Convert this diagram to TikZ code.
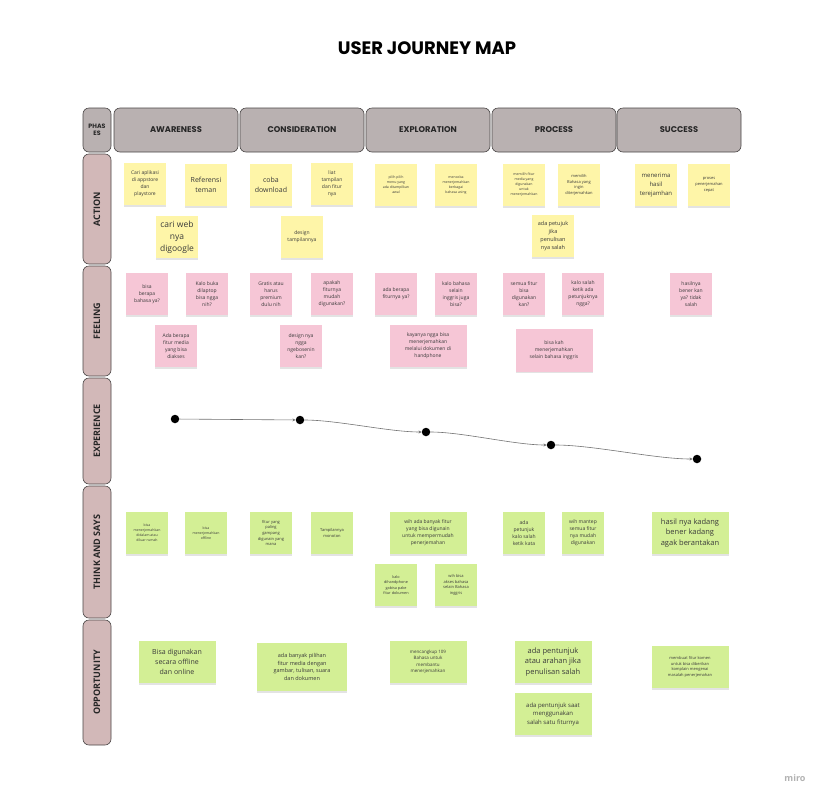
\documentclass[tikz,border=0pt]{standalone}
\usepackage{fontspec}
\setmainfont{Open Sans}
\newfontfamily\popp{Poppins}
\usetikzlibrary{shadows,arrows.meta}
\definecolor{ycol}{HTML}{FEF5A8}
\definecolor{pcol}{HTML}{F6C6D6}
\definecolor{gcol}{HTML}{D3EF95}
\definecolor{hdrfill}{HTML}{B9B1B1}
\definecolor{rowfill}{HTML}{D2B8B8}
\definecolor{hdrline}{HTML}{4A4646}
\definecolor{txt}{HTML}{3A3A3A}
\tikzset{
  fs/.style={font=\fontsize{#1}{\fpeval{1.42*#1}}\selectfont},
  note/.style={rectangle, inner sep=1pt, align=center, text=txt,
    minimum width=42pt, minimum height=42pt,
    drop shadow={shadow xshift=0pt, shadow yshift=-1.6pt, opacity=0.22}},
  yn/.style={note, fill=ycol},
  pn/.style={note, fill=pcol},
  gn/.style={note, fill=gcol},
  wide/.style={minimum width=77pt},
  hdr/.style={draw=hdrline, fill=hdrfill, rounded corners=6pt, line width=0.6pt,
    minimum height=44pt, font=\popp\bfseries\fontsize{8.3}{9}\selectfont, text=black!85},
  rowlab/.style={draw=hdrline, fill=rowfill, rounded corners=6pt, line width=0.6pt,
    minimum height=28pt, rotate=90, font=\bfseries\fontsize{9}{10}\selectfont, text=black!85},
  dot/.style={circle, fill=black, inner sep=0pt, minimum size=8.5pt},
  expline/.style={draw=black!55, line width=0.6pt, -{Stealth[length=3pt,width=3pt]}}
}
\begin{document}
\begin{tikzpicture}[x=1pt,y=-1pt]
\useasboundingbox[fill=white] (0,0) rectangle (828,804);

\node (title) at (427,48) {\popp\bfseries\fontsize{18}{20}\selectfont USER JOURNEY MAP};

% header
\node[hdr, minimum width=28pt, font=\popp\bfseries\fontsize{6.3}{7.5}\selectfont, align=center] (phases) at (97,130) {PHAS\\ES};
\node[hdr, minimum width=124pt] (aw) at (176,130) {AWARENESS};
\node[hdr, minimum width=124pt] (co) at (302,130) {CONSIDERATION};
\node[hdr, minimum width=124pt] (ex) at (428,130) {EXPLORATION};
\node[hdr, minimum width=124pt] (pr) at (554,130) {PROCESS};
\node[hdr, minimum width=124pt] (su) at (679,130) {SUCCESS};

% row labels
\node[rowlab, minimum width=110pt] (ract) at (97,209) {ACTION};
\node[rowlab, minimum width=110pt] (rfeel) at (97,321) {FEELING};
\node[rowlab, minimum width=106pt] (rexp) at (97,431) {EXPERIENCE};
\node[rowlab, minimum width=132pt] (rthink) at (97,552) {THINK AND SAYS};
\node[rowlab, minimum width=125pt] (ropp) at (97,682.5) {OPPORTUNITY};

% action
\node[yn, fs=5] (a1) at (145,184) {Cari aplikasi\\di appstore\\dan\\playstore};
\node[yn, fs=7] (a2) at (206,185) {Referensi\\teman};
\node[yn, fs=8.5] (a3) at (177,237) {cari web\\nya\\digoogle};
\node[yn, fs=7] (a4) at (271,185) {coba\\download};
\node[yn, fs=5] (a5) at (332,184) {liat\\tampilan\\dan fitur\\nya};
\node[yn, fs=5] (a6) at (302,237) {design\\tampilannya};
\node[yn, fs=3.5] (a7) at (396,185) {pilih pilih\\menu yang\\ada ditampilkan\\awal};
\node[yn, fs=3.5] (a8) at (456,185) {mencoba\\menerjemahkan\\berbagai\\bahasa asing};
\node[yn, fs=3.5] (a9) at (524,185) {memilih fitur\\media yang\\digunakan\\untuk\\menerjemahkan};
\node[yn, fs=4] (a10) at (579,185) {memilih\\Bahasa yang\\ingin\\diterjemahkan};
\node[yn, fs=5.5] (a11) at (553,236) {ada petujuk\\jika\\penulisan\\nya salah};
\node[yn, fs=6] (a12) at (656,185) {menerima\\hasil\\terejamhan};
\node[yn, fs=4] (a13) at (709,185) {proses\\penerjemahan\\cepat};

% feeling
\node[pn, fs=5] (f1) at (147,294) {bisa\\berapa\\bahasa ya?};
\node[pn, fs=5] (f2) at (207,294) {Kalo buka\\dilaptop\\bisa ngga\\nih?};
\node[pn, fs=5] (f3) at (176,346) {Ada berapa\\fitur media\\yang bisa\\diakses};
\node[pn, fs=5] (f4) at (271,294) {Gratis atau\\harus\\premium\\dulu nih};
\node[pn, fs=5] (f5) at (332,294) {apakah\\fiturnya\\mudah\\digunakan?};
\node[pn, fs=5] (f6) at (301,346) {design nya\\ngga\\ngebosenin\\kan?};
\node[pn, fs=5] (f7) at (396,294) {ada berapa\\fiturnya ya?};
\node[pn, fs=5] (f8) at (456,294) {kalo bahasa\\selain\\inggris juga\\bisa?};
\node[pn, wide, fs=5] (f9) at (428,346) {kayanya ngga bisa\\menerjemahkan\\melalui dokumen di\\handphone};
\node[pn, fs=5] (f10) at (524,294) {semua fitur\\bisa\\digunakan\\kan?};
\node[pn, fs=5] (f11) at (583,294) {kalo salah\\ketik ada\\petunjuknya\\ngga?};
\node[pn, wide, minimum height=43pt, fs=5] (f12) at (554,350) {bisa kah\\menerjemahkan\\selain bahasa inggris};
\node[pn, fs=5] (f13) at (691,294) {hasilnya\\bener kan\\ya? tidak\\salah};

% experience
\node[dot] (e1) at (175,419) {};
\node[dot] (e2) at (300,420) {};
\node[dot] (e3) at (426,432) {};
\node[dot] (e4) at (551,445) {};
\node[dot] (e5) at (697,459) {};
\draw[expline] (e1) -- (e2);
\draw[expline] (e2) to[out=0,in=180,looseness=0.7] (e3);
\draw[expline] (e3) to[out=0,in=180,looseness=0.7] (e4);
\draw[expline] (e4) to[out=0,in=180,looseness=0.7] (e5);

% think and says
\node[gn, fs=3.5] (t1) at (147,533) {bisa\\menerjemahkan\\didalam atau\\diluar rumah};
\node[gn, fs=3.5] (t2) at (206,533) {bisa\\menerjemahkan\\offline};
\node[gn, fs=4] (t3) at (271,533) {fitur yang\\paling\\gampang\\digunain yang\\mana};
\node[gn, fs=4] (t4) at (332,533) {Tampilannya\\monoton};
\node[gn, fs=3.8] (t5) at (396,585) {kalo\\dihandphone\\gabisa pake\\fitur dokumen};
\node[gn, wide, fs=5] (t6) at (428,533) {wih ada banyak fitur\\yang bisa digunain\\untuk mempermudah\\penerjemahan};
\node[gn, fs=4] (t7) at (456,585) {wih bisa\\akses bahasa\\selain Bahasa\\inggris};
\node[gn, fs=5] (t8) at (524,533) {ada\\petunjuk\\kalo salah\\ketik kata};
\node[gn, fs=5] (t9) at (583,533) {wih mantep\\semua fitur\\nya mudah\\digunakan};
\node[gn, wide, fs=7.5] (t10) at (690,533) {hasil nya kadang\\bener kadang\\agak berantakan};

% opportunity
\node[gn, wide, fs=7] (o1) at (177,662) {Bisa digunakan\\secara offline\\dan online};
\node[gn, minimum width=90pt, minimum height=48pt, fs=5.5] (o2) at (302,667) {ada banyak pilihan\\fitur media dengan\\gambar, tulisan, suara\\dan dokumen};
\node[gn, wide, fs=4.5] (o3) at (428,662) {mencangkup 109\\Bahasa untuk\\membantu\\menerjemahkan};
\node[gn, wide, fs=7.5] (o4) at (553,662) {ada pentunjuk\\atau arahan jika\\penulisan salah};
\node[gn, wide, fs=6] (o5) at (553,714) {ada pentunjuk saat\\menggunakan\\salah satu fiturnya};
\node[gn, wide, fs=4] (o6) at (690,667) {membuat fitur komen\\untuk bisa diberikan\\komplain mengenai\\masalah penerjemahan};

\node[text=black!30, font=\bfseries\fontsize{9}{10}\selectfont] (miro) at (795,778) {miro};
\end{tikzpicture}
\end{document}
